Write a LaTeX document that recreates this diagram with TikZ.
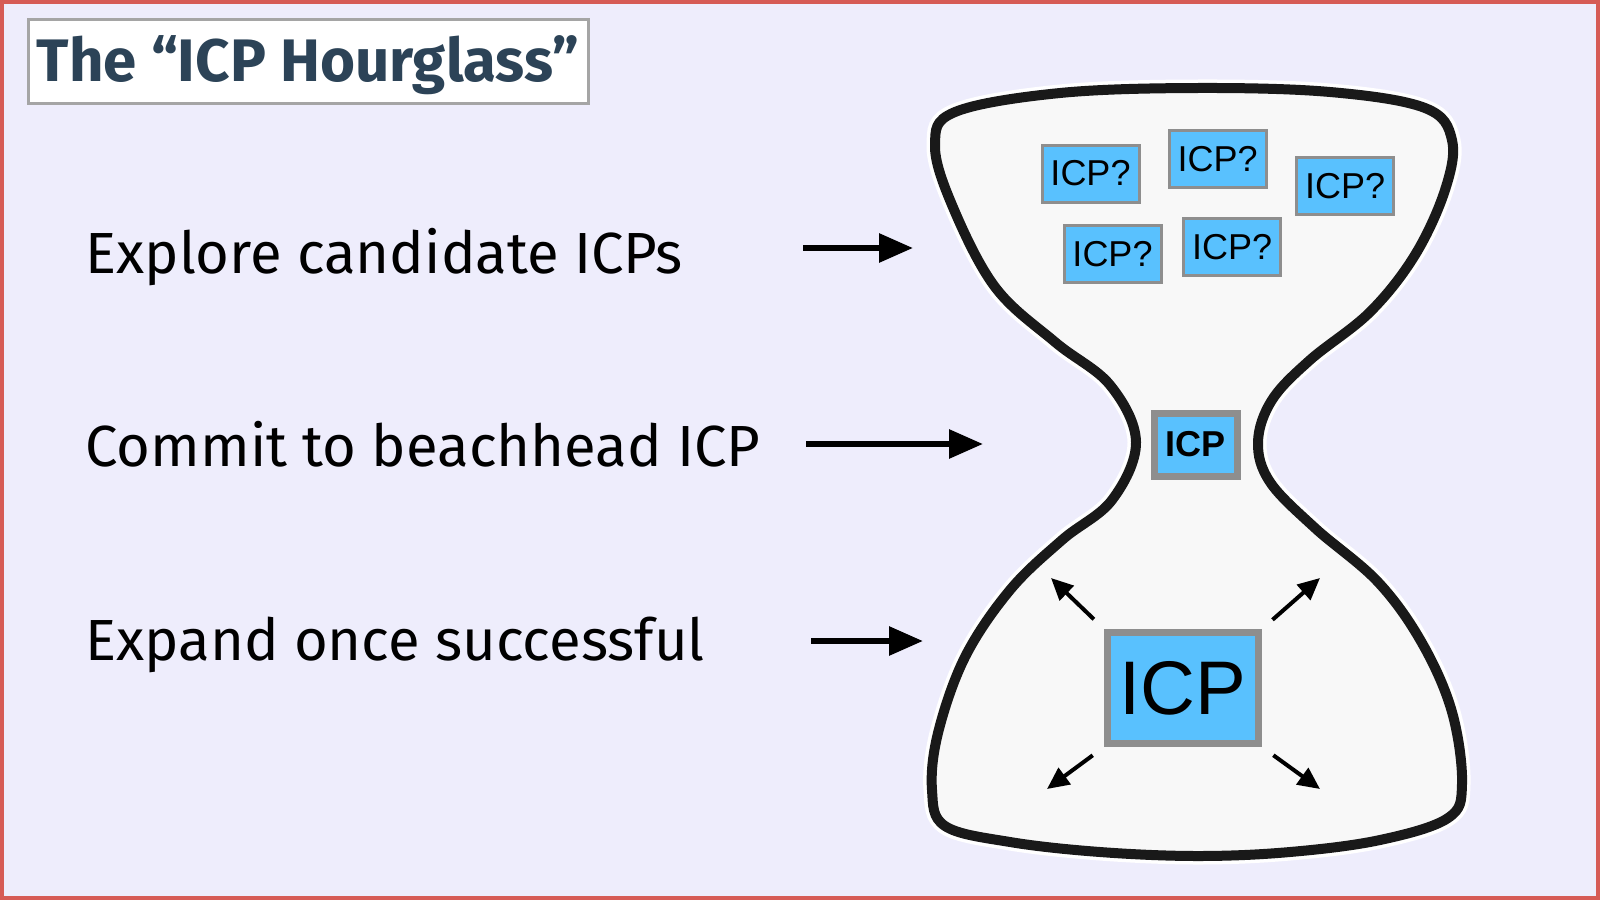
\documentclass[tikz,border=0pt]{standalone}
\usepackage{fontspec}
\setmainfont{Liberation Sans}
\newfontfamily\handfont{Fira Sans}
\usetikzlibrary{positioning,arrows.meta}

\definecolor{bgcol}{HTML}{EEEDFC}
\definecolor{framered}{HTML}{D65B55}
\definecolor{titleblue}{HTML}{2C4357}
\definecolor{icpblue}{HTML}{59C1FE}
\definecolor{icpgray}{HTML}{8E8E8E}
\definecolor{glassfill}{HTML}{F8F8F8}

\begin{document}
\begin{tikzpicture}[
    x=0.5pt, y=-0.5pt,
    titlebox/.style={rectangle, draw=icpgray!80, line width=1.5pt, fill=white, minimum width=280pt, minimum height=42pt, inner sep=0pt, text height=20.5pt, text depth=0pt, text=titleblue, font=\handfont\bfseries\fontsize{30pt}{34pt}\selectfont},
    steptext/.style={inner sep=0pt, font=\handfont\fontsize{29pt}{34pt}\selectfont},
    icpq/.style={rectangle, draw=icpgray, line width=1.5pt, fill=icpblue, minimum width=48.5pt, minimum height=28.5pt, inner sep=0pt, font=\fontsize{18pt}{20pt}\selectfont},
    icpmid/.style={rectangle, draw=icpgray, line width=3.5pt, fill=icpblue, minimum width=41.5pt, minimum height=31.5pt, inner sep=0pt, font=\bfseries\fontsize{18pt}{20pt}\selectfont},
    icpbig/.style={rectangle, draw=icpgray, line width=3.5pt, fill=icpblue, minimum width=75.5pt, minimum height=55.5pt, inner sep=0pt, font=\fontsize{38pt}{40pt}\selectfont},
    glass/.style={draw=black!90, line width=5pt, fill=glassfill, preaction={draw=white, line width=8.5pt}},
    arrow/.style={->, >={Triangle[length=17pt, width=14pt]}, line width=3pt},
    spread/.style={->, >={Triangle[length=11pt, width=10pt]}, line width=2pt}
]
    \fill[bgcol] (0,0) rectangle (1600,900);
    \draw[framered, line width=2pt] (2,2) rectangle (1598,898);
    \useasboundingbox (0,0) rectangle (1600,900);

    \node[titlebox] (title) at (308,61) {The “ICP Hourglass”};

    % the three steps
    \node[steptext, anchor=base west] (explore) at (85,273) {Explore candidate ICPs};
    \node[steptext, below=96.75pt of explore.base west, anchor=base west] (commit) {Commit to beachhead ICP};
    \node[steptext, below=96.75pt of commit.base west, anchor=base west] (expand) {Expand once successful};

    % hourglass
    \draw[glass] plot[smooth cycle, tension=0.6] coordinates {
        (1197,88) (1330,92) (1425,108) (1452,140) (1445,190) (1415,255) (1370,312)
        (1310,360) (1272,400) (1258,442) (1270,482) (1315,528) (1378,582) (1422,643)
        (1452,712) (1462,784) (1448,818) (1380,840) (1290,852) (1198,856) (1100,852)
        (1010,842) (945,826) (932,790) (938,733) (965,657) (1010,590) (1062,540)
        (1112,500) (1136,442) (1110,385) (1055,342) (995,287) (952,205) (935,145)
        (955,112) (1060,93)};

    \node[icpq] (q1) at (1090.5,173.5) {ICP?};
    \node[icpq] (q2) at (1217.5,159) {ICP?};
    \node[icpq] (q3) at (1345,186) {ICP?};
    \node[icpq] (q4) at (1112.5,254) {ICP?};
    \node[icpq] (q5) at (1232,247) {ICP?};
    \node[icpmid] (beach) at (1195.5,444.5) {ICP};
    \node[icpbig] (big) at (1183,688) {ICP};

    \coordinate (a1s) at (803,248);  \coordinate (a1e) at (913,248);
    \coordinate (a2s) at (806,444);  \coordinate (a2e) at (983,444);
    \coordinate (a3s) at (811,641);  \coordinate (a3e) at (923,641);
    \draw[arrow] (a1s) -- (a1e);
    \draw[arrow] (a2s) -- (a2e);
    \draw[arrow] (a3s) -- (a3e);

    \coordinate (ul) at (1051,578);
    \coordinate (ur) at (1320,578);
    \coordinate (dl) at (1047,789);
    \coordinate (dr) at (1320,789);
    \draw[spread, shorten <=7pt] (big.north west) -- (ul);
    \draw[spread, shorten <=7pt] (big.north east) -- (ur);
    \draw[spread, shorten <=7pt] (big.south west) -- (dl);
    \draw[spread, shorten <=7pt] (big.south east) -- (dr);
\end{tikzpicture}
\end{document}
